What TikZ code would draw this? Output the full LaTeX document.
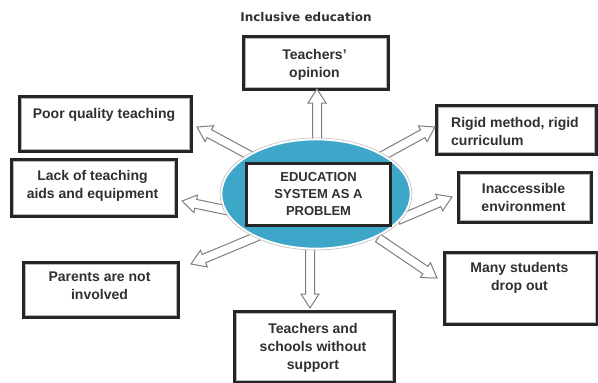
\documentclass[tikz,border=0pt]{standalone}
\usepackage{fontspec}
\setmainfont{Liberation Sans}
\newfontfamily\headfont{DejaVu Sans}
\usetikzlibrary{calc,shapes.geometric}

\definecolor{inkgray}{HTML}{303030}
\definecolor{hubblue}{HTML}{3DA6C9}
\definecolor{arrowline}{HTML}{7E7E7E}

\tikzset{
  framebox/.style={draw=black!85, line width=2.6pt, fill=white, anchor=north west,
    inner sep=0pt,
    path picture={\draw[gray!55, line width=0.9pt]
      ([shift={(1.9pt,-1.9pt)}]path picture bounding box.north west) rectangle
      ([shift={(-1.9pt,1.9pt)}]path picture bounding box.south east);}},
  boxtext/.style={font=\bfseries\fontsize{14}{18}\selectfont, text=inkgray,
    align=center, inner sep=0pt, anchor=north},
  hubtext/.style={font=\bfseries\fontsize{13}{17}\selectfont, text=inkgray,
    align=center, inner sep=0pt, anchor=north},
  hollowarrow/.style={draw=arrowline, fill=white, line width=1pt, line join=miter},
}

% hollow block arrow from #1 (tail) to #2 (tip)
\newcommand{\blockarrow}[2]{%
  \coordinate (hb) at ($(#2)!14pt!(#1)$);
  \draw[hollowarrow]
    ($(#1)!4.5pt!90:(#2)$) -- ($(hb)!4.5pt!90:(#2)$) -- ($(hb)!9pt!90:(#2)$)
    -- (#2) -- ($(hb)!9pt!-90:(#2)$) -- ($(hb)!4.5pt!-90:(#2)$)
    -- ($(#1)!4.5pt!-90:(#2)$) -- cycle;}

\begin{document}
\begin{tikzpicture}[x=1pt, y=-1pt]
  \useasboundingbox (0,0) rectangle (598,383);

  % title
  \node[font=\headfont\bfseries\fontsize{12}{14}\selectfont, text=inkgray] (title) at (306,17) {Inclusive education};

  % outer boxes
  \node[framebox, minimum width=145pt, minimum height=53pt] (op) at (242,35) {};
  \node[boxtext] (opt) at (314.5,49) {Teachers'\\opinion};

  \node[framebox, minimum width=172pt, minimum height=55pt] (poor) at (18,95) {};
  \node[boxtext] (poort) at (104,108) {Poor quality teaching};

  \node[framebox, minimum width=165pt, minimum height=57pt] (lack) at (10,158) {};
  \node[boxtext] (lackt) at (92.5,170) {Lack of teaching\\aids and equipment};

  \node[framebox, minimum width=160pt, minimum height=49pt] (rigid) at (435,104) {};
  \node[boxtext, align=left, anchor=north west] (rigidt) at (451,117) {Rigid method, rigid\\curriculum};

  \node[framebox, minimum width=133pt, minimum height=50pt] (inacc) at (457,171) {};
  \node[boxtext] (inacct) at (523.5,183) {Inaccessible\\environment};

  \node[framebox, minimum width=155pt, minimum height=55pt] (parents) at (22,261) {};
  \node[boxtext] (parentst) at (99.5,272) {Parents are not\\involved};

  \node[framebox, minimum width=160pt, minimum height=71pt] (tsw) at (233,310) {};
  \node[boxtext] (tswt) at (313,323) {Teachers and\\schools without\\support};

  \node[framebox, minimum width=153pt, minimum height=72pt] (many) at (443,251) {};
  \node[boxtext] (manyt) at (519.5,262) {Many students\\drop out};

  % arrow ends
  \coordinate (tUp) at (317,152);   \coordinate (hUp) at (317,89);
  \coordinate (tPoor) at (262,162); \coordinate (hPoor) at (197,127);
  \coordinate (tLack) at (240,213); \coordinate (hLack) at (182,201);
  \coordinate (tPar) at (258,236);  \coordinate (hPar) at (191,264);
  \coordinate (tDown) at (310,236); \coordinate (hDown) at (310,308);
  \coordinate (tRig) at (375,160);  \coordinate (hRig) at (435,127);
  \coordinate (tInac) at (398,220); \coordinate (hInac) at (452,197);
  \coordinate (tMany) at (378,238); \coordinate (hMany) at (437,278);

  \blockarrow{tUp}{hUp}
  \blockarrow{tPoor}{hPoor}
  \blockarrow{tLack}{hLack}
  \blockarrow{tPar}{hPar}
  \blockarrow{tDown}{hDown}
  \blockarrow{tRig}{hRig}
  \blockarrow{tInac}{hInac}
  \blockarrow{tMany}{hMany}

  % central hub
  \draw[gray!45, line width=0.8pt] (316,194) ellipse [x radius=96pt, y radius=56pt];
  \node[ellipse, fill=hubblue, draw=white, line width=1.6pt, minimum width=189pt,
        minimum height=109pt, inner sep=0pt] (hub) at (316,194) {};
  \node[draw=black!85, line width=2.8pt, fill=white, minimum width=144pt,
        minimum height=62pt, inner sep=0pt] (core) at (318.5,194.5) {};
  \node[hubtext] (coret) at (318.5,172) {EDUCATION\\SYSTEM AS A\\PROBLEM};
\end{tikzpicture}
\end{document}
